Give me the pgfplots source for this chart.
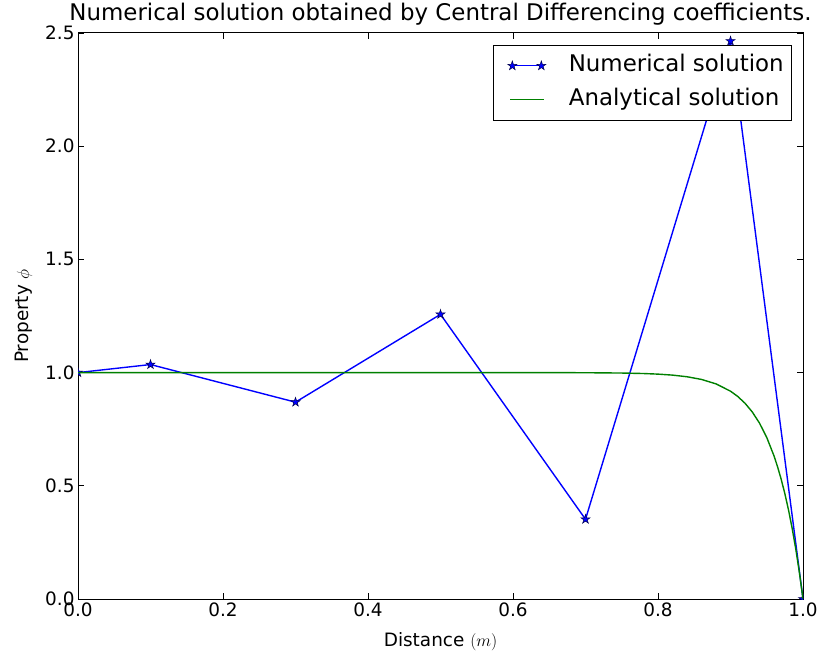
\documentclass[border=0pt]{standalone}
\usepackage{pgfplots}
\pgfplotsset{compat=1.18}
\usepackage{fontspec}
\setmainfont{DejaVu Sans}

% filled five-pointed star marker
\pgfdeclareplotmark{filledstar}{%
  \pgfpathmoveto{\pgfpointpolar{90}{\pgfplotmarksize}}%
  \pgfpathlineto{\pgfpointpolar{126}{0.382\pgfplotmarksize}}%
  \pgfpathlineto{\pgfpointpolar{162}{\pgfplotmarksize}}%
  \pgfpathlineto{\pgfpointpolar{198}{0.382\pgfplotmarksize}}%
  \pgfpathlineto{\pgfpointpolar{234}{\pgfplotmarksize}}%
  \pgfpathlineto{\pgfpointpolar{270}{0.382\pgfplotmarksize}}%
  \pgfpathlineto{\pgfpointpolar{306}{\pgfplotmarksize}}%
  \pgfpathlineto{\pgfpointpolar{342}{0.382\pgfplotmarksize}}%
  \pgfpathlineto{\pgfpointpolar{18}{\pgfplotmarksize}}%
  \pgfpathlineto{\pgfpointpolar{54}{0.382\pgfplotmarksize}}%
  \pgfpathclose
  \pgfusepathqfillstroke
}

\definecolor{mplblue}{rgb}{0,0,1}
\definecolor{mplgreen}{rgb}{0,0.5,0}

% legend samples: plain line, and line with a marker at each end
\pgfplotsset{
  lineonly/.style={legend image code/.code={%
    \path (0bp,0bp) (47.6bp,0bp);
    \draw[##1, line width=1.4bp] (11.5bp,0bp) -- (45.5bp,0bp);}},
  twomarks/.style={legend image code/.code={%
    \path (0bp,0bp) (47.6bp,0bp);
    \draw[mark repeat=1,##1, line width=1.4bp] plot coordinates {(13.8bp,0bp) (42.8bp,0bp)};}},
}

% central differencing, 5 cells
\pgfplotstableread{
x    phi
0.0  1.0
0.1  1.0356
0.3  0.8694
0.5  1.2573
0.7  0.3521
0.9  2.4644
1.0  0.0
}\numerical

% exact profile
\pgfplotstableread{
x      phi
0.0    1.0
0.1    1.0
0.2    1.0
0.3    1.0
0.4    1.0
0.5    1.0
0.6    1.0
0.65   0.99984
0.7    0.99945
0.75   0.99807
0.78   0.99591
0.80   0.99326
0.82   0.98889
0.84   0.98168
0.86   0.96980
0.88   0.95021
0.90   0.91792
0.91   0.89460
0.92   0.86466
0.93   0.82623
0.94   0.77687
0.95   0.71350
0.96   0.63212
0.965  0.58314
0.97   0.52763
0.975  0.46474
0.98   0.39347
0.985  0.31271
0.99   0.22120
0.995  0.11750
1.0    0.0
}\analytical

\begin{document}
\begin{tikzpicture}
\path[use as bounding box] (-78bp,-55bp) rectangle (741bp,599bp);
\begin{axis}[
  at={(0,0)}, anchor=south west,
  scale only axis, width=725bp, height=566bp,
  xmin=0, xmax=1, ymin=0, ymax=2.5,
  xtick={0,0.2,0.4,0.6,0.8,1.0},
  ytick={0,0.5,1.0,1.5,2.0,2.5},
  tick align=inside,
  major tick length=6bp,
  axis line style={black, line width=1bp},
  tick style={black, line width=0.8bp},
  /pgf/number format/assume math mode=true,
  xticklabel style={/pgf/number format/.cd, fixed, fixed zerofill, precision=1},
  yticklabel style={/pgf/number format/.cd, fixed, fixed zerofill, precision=1},
  ticklabel style={font=\fontsize{18.5}{18.5}\selectfont},
  title={Numerical solution obtained by Central Differencing coefficients.},
  title style={font=\fontsize{23}{23}\selectfont, at={(axis description cs:0.5,1)}, anchor=base, yshift=7bp, inner sep=0pt},
  xlabel={Distance $(m)$},
  xlabel style={font=\fontsize{18.5}{18.5}\selectfont, at={(axis description cs:0.5,-0.0848)}, anchor=base, inner sep=0pt},
  ylabel={Property $\phi$},
  ylabel style={font=\fontsize{18.5}{18.5}\selectfont, at={(axis description cs:-0.0676,0.5)}, anchor=base, inner sep=0pt},
  clip marker paths=true,
  legend style={at={(axis description cs:0.985,0.979)}, anchor=north east,
    draw=black, line width=0.8bp, fill=white,
    font=\fontsize{23}{23}\selectfont,
    inner xsep=4bp, inner ysep=3.5bp, row sep=0bp,
    nodes={inner xsep=4bp, inner ysep=5.5bp, text height=17bp, text depth=6bp},
    /tikz/every odd column/.append style={column sep=18bp},
    cells={anchor=west}},
]
\addplot[mplblue, line width=1.4bp, mark=filledstar, mark size=4.8bp,
  mark options={fill=mplblue, draw=black!70!blue, line width=0.5bp}, twomarks]
  table[x=x, y=phi] {\numerical};
\addlegendentry{Numerical solution}
\addplot[mplgreen, line width=1.4bp, no marks, lineonly] table[x=x, y=phi] {\analytical};
\addlegendentry{Analytical solution}
\end{axis}
\end{tikzpicture}
\end{document}
